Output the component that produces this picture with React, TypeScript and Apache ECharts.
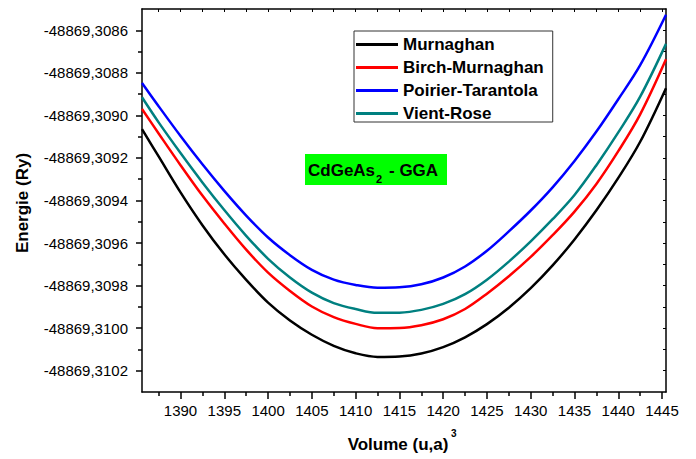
import React, { useEffect, useRef } from "react";
import * as echarts from "echarts";

// Volumes (u.a.)^3
const volumes = [1385.6, 1387.5, 1390, 1392.5, 1395, 1397.5, 1400, 1402.5, 1405, 1407.5, 1410, 1412.5, 1415, 1417.5, 1420, 1422.5, 1425, 1427.5, 1430, 1432.5, 1435, 1437.5, 1440, 1442.5, 1445.45];

// Energies (Ry)
const murnaghan = [-48869.309065, -48869.309193, -48869.309362, -48869.309516, -48869.309653, -48869.309773, -48869.30988, -48869.309964, -48869.310031, -48869.310083, -48869.310118, -48869.310135, -48869.310133, -48869.310119, -48869.310089, -48869.310043, -48869.309981, -48869.309904, -48869.309812, -48869.309705, -48869.309583, -48869.309446, -48869.309294, -48869.309124, -48869.308872];
const birchMurnaghan = [-48869.30897, -48869.309085, -48869.309234, -48869.309377, -48869.309508, -48869.309631, -48869.309739, -48869.309825, -48869.309898, -48869.309948, -48869.30998, -48869.31, -48869.309999, -48869.309986, -48869.309958, -48869.30991, -48869.309838, -48869.309756, -48869.309665, -48869.309563, -48869.309452, -48869.309322, -48869.309168, -48869.308995, -48869.308736];
const poirierTarantola = [-48869.308848, -48869.308957, -48869.309097, -48869.30923, -48869.309355, -48869.309471, -48869.309574, -48869.309657, -48869.309726, -48869.309772, -48869.309797, -48869.30981, -48869.309808, -48869.309794, -48869.309762, -48869.30971, -48869.309636, -48869.309545, -48869.309447, -48869.309338, -48869.309214, -48869.309076, -48869.308924, -48869.308764, -48869.308527];
const vientRose = [-48869.308915, -48869.309033, -48869.309177, -48869.309315, -48869.309445, -48869.309566, -48869.309674, -48869.309762, -48869.309833, -48869.309882, -48869.30991, -48869.309928, -48869.309927, -48869.309914, -48869.309886, -48869.30984, -48869.309772, -48869.309687, -48869.309592, -48869.309488, -48869.309374, -48869.309234, -48869.30908, -48869.308912, -48869.308664];

const seriesNames = ["Murnaghan", "Birch-Murnaghan", "Poirier-Tarantola", "Vient-Rose"];
const seriesColors = ["#000000", "#ff0000", "#0000ff", "#008080"];

const xTicks = [1390, 1395, 1400, 1405, 1410, 1415, 1420, 1425, 1430, 1435, 1440, 1445];
const xMinorTicks = [1387.5, 1392.5, 1397.5, 1402.5, 1407.5, 1412.5, 1417.5, 1422.5, 1427.5, 1432.5, 1437.5, 1442.5];
const yTicks = [-48869.3102, -48869.31, -48869.3098, -48869.3096, -48869.3094, -48869.3092, -48869.309, -48869.3088, -48869.3086];
const yMinorTicks = [-48869.3101, -48869.3099, -48869.3097, -48869.3095, -48869.3093, -48869.3091, -48869.3089, -48869.3087];

const X_MIN = 1385.6;
const X_MAX = 1445.45;
const Y_MIN = -48869.3103;
const Y_MAX = -48869.3085;

const FONT = "'Liberation Sans', Arial, sans-serif";

export default function App() {
  const ref = useRef<HTMLDivElement>(null);
  useEffect(() => {
    if (!ref.current) return;
    const chart = echarts.init(ref.current, undefined, { renderer: "svg" });
    const allSeries = [murnaghan, birchMurnaghan, poirierTarantola, vientRose];
    const gridRect = { left: 142, top: 9, right: 30, bottom: 67 };
    const axisLine = { show: true, lineStyle: { color: "#000", width: 1.5 } };
    const tickStyle = { color: "#000", width: 1.5 };
    chart.setOption({
      animation: false,
      backgroundColor: "#fff",
      textStyle: { fontFamily: FONT },
      grid: [
        { ...gridRect, containLabel: false },
        { ...gridRect, containLabel: false },
      ],
      legend: {
        orient: "vertical",
        left: 354,
        top: 31,
        data: seriesNames,
        icon: "rect",
        itemWidth: 42,
        itemHeight: 3,
        itemGap: 6,
        padding: [5, 9, 0, 2],
        borderColor: "#333",
        borderWidth: 1,
        backgroundColor: "#fff",
        textStyle: { fontSize: 17, fontWeight: "bold", color: "#000", fontFamily: FONT },
      },
      xAxis: [
        {
          type: "value", gridIndex: 0, position: "bottom", min: X_MIN, max: X_MAX,
          axisLine,
          axisTick: { show: true, customValues: xTicks, length: 7, lineStyle: tickStyle },
          axisLabel: { customValues: xTicks, fontSize: 15, color: "#000", margin: 11, fontFamily: FONT, formatter: (v: number) => String(v) },
          splitLine: { show: false },
        },
        {
          type: "value", gridIndex: 0, position: "top", min: X_MIN, max: X_MAX,
          axisLine,
          axisTick: { show: true, inside: true, customValues: [...xTicks, ...xMinorTicks], length: 3, lineStyle: { color: "#000", width: 1 } },
          axisLabel: { show: false },
          splitLine: { show: false },
        },
        {
          type: "value", gridIndex: 1, position: "bottom", min: X_MIN, max: X_MAX,
          axisLine: { show: false },
          axisTick: { show: true, customValues: xMinorTicks, length: 4, lineStyle: tickStyle },
          axisLabel: { show: false },
          splitLine: { show: false },
        },
      ],
      yAxis: [
        {
          type: "value", gridIndex: 0, position: "left", min: Y_MIN, max: Y_MAX,
          axisLine,
          axisTick: { show: true, customValues: yTicks, length: 6, lineStyle: tickStyle },
          axisLabel: {
            customValues: yTicks, fontSize: 15, color: "#000", margin: 14, fontFamily: FONT,
            formatter: (v: number) => v.toFixed(4).replace(".", ","),
          },
          splitLine: { show: false },
        },
        {
          type: "value", gridIndex: 0, position: "right", min: Y_MIN, max: Y_MAX,
          axisLine,
          axisTick: { show: true, inside: true, customValues: [...yTicks, ...yMinorTicks], length: 3, lineStyle: { color: "#000", width: 1 } },
          axisLabel: { show: false },
          splitLine: { show: false },
        },
        {
          type: "value", gridIndex: 1, position: "left", min: Y_MIN, max: Y_MAX,
          axisLine: { show: false },
          axisTick: { show: true, customValues: yMinorTicks, length: 4, lineStyle: tickStyle },
          axisLabel: { show: false },
          splitLine: { show: false },
        },
      ],
      series: allSeries.map((vals, i) => ({
        name: seriesNames[i],
        type: "line",
        xAxisIndex: 0,
        yAxisIndex: 0,
        data: volumes.map((v, j) => [v, vals[j]]),
        smooth: 0.35,
        symbol: "none",
        color: seriesColors[i],
        lineStyle: { color: seriesColors[i], width: 2.5 },
      })),
      graphic: [
        {
          type: "text", x: 22, y: 203, rotation: Math.PI / 2,
          style: { text: "Energie (Ry)", font: `bold 17px ${FONT}`, fill: "#000", textAlign: "center", textVerticalAlign: "middle" },
        },
        {
          type: "text", x: 398, y: 444,
          style: { text: "Volume (u,a)", font: `bold 17px ${FONT}`, fill: "#000", textAlign: "center", textVerticalAlign: "middle" },
        },
        {
          type: "text", x: 451, y: 433,
          style: { text: "3", font: `bold 10px ${FONT}`, fill: "#000", textAlign: "left", textVerticalAlign: "middle" },
        },
        {
          type: "rect", shape: { x: 305, y: 154, width: 142, height: 31 },
          style: { fill: "#00ff00" },
        },
        {
          type: "text", x: 308, y: 170,
          style: { text: "CdGeAs", font: `bold 17px ${FONT}`, fill: "#000", textAlign: "left", textVerticalAlign: "middle" },
        },
        {
          type: "text", x: 376, y: 179,
          style: { text: "2", font: `bold 11px ${FONT}`, fill: "#000", textAlign: "left", textVerticalAlign: "middle" },
        },
        {
          type: "text", x: 389, y: 170,
          style: { text: "- GGA", font: `bold 17px ${FONT}`, fill: "#000", textAlign: "left", textVerticalAlign: "middle" },
        },
      ],
    });
    return () => chart.dispose();
  }, []);
  return <div ref={ref} style={{ width: 696, height: 459, position: "absolute", left: 0, top: 0 }} />;
}
